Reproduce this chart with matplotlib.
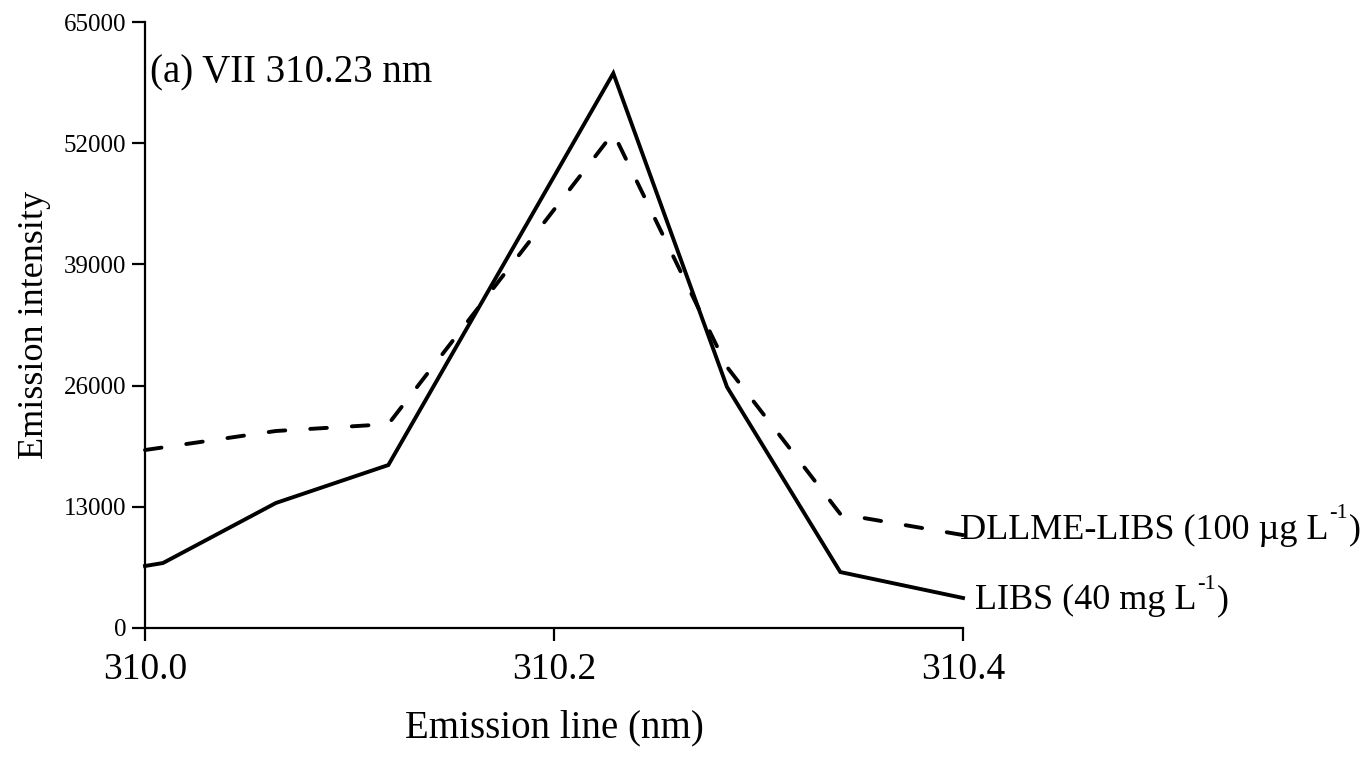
import matplotlib
matplotlib.use("Agg")
import matplotlib.pyplot as plt
from matplotlib.transforms import offset_copy

plt.rcParams['font.family'] = ['Liberation Serif', 'DejaVu Serif']
plt.rcParams['lines.scale_dashes'] = False

# Data
libs_x = [310.0, 310.0088, 310.064, 310.119, 310.229, 310.2846, 310.340, 310.400]
libs_y = [6650, 6970, 13410, 17480, 59500, 25850, 6000, 3220]

dllme_x = [310.0, 310.064, 310.119, 310.229, 310.2846, 310.340, 310.400]
dllme_y = [19090, 21130, 21870, 53100, 28000, 12230, 9970]

yticks = [0, 13000, 26000, 39000, 52000, 65000]
xticks = [310.0, 310.2, 310.4]
xticklabels = ["310.0", "310.2", "310.4"]

fig = plt.figure(figsize=(13.72, 7.57), dpi=100)
ax = fig.add_axes([145/1372, 1-628/757, (963-145)/1372, (628-22)/757])

ax.plot(libs_x, libs_y, color='black', lw=2.8, solid_joinstyle='miter', clip_on=False)
ax.plot(dllme_x, dllme_y, color='black', lw=2.8, dashes=(12, 18),
        dash_capstyle='round', clip_on=False)

ax.set_xlim(310.0, 310.4)
ax.set_ylim(0, 65000)
ax.set_yticks(yticks)
ax.set_yticklabels([str(v) for v in yticks], fontsize=18)
ax.set_xticks(xticks)
ax.set_xticklabels(xticklabels, fontsize=27)

for s in ['top', 'right']:
    ax.spines[s].set_visible(False)
for s in ['left', 'bottom']:
    ax.spines[s].set_linewidth(1.6)
ax.tick_params(axis='both', direction='out', length=9.5, width=1.6, color='black')
ax.tick_params(axis='y', pad=4)
ax.tick_params(axis='x', pad=8)

ax.set_xlabel("Emission line (nm)", fontsize=28, labelpad=16)
ax.set_ylabel("Emission intensity", fontsize=26, labelpad=9)

ax.text(0.006, 0.916, "(a) VII 310.23 nm", transform=ax.transAxes,
        fontsize=28, va='center', ha='left')


def label_with_sup(x, y, base, sup, tail, size):
    t1 = ax.text(x, y, base, fontsize=size, va='center', ha='left', clip_on=False)
    fig.canvas.draw()
    r = fig.canvas.get_renderer()
    bb = t1.get_window_extent(r)
    inv = ax.transData.inverted()
    x2, _ = inv.transform((bb.x1 + 1, bb.y0))
    tr = offset_copy(ax.transData, fig=fig, x=0, y=size * 0.45, units='points')
    t2 = ax.text(x2, y, sup, fontsize=size * 0.62, va='center', ha='left',
                 transform=tr, clip_on=False)
    fig.canvas.draw()
    bb2 = t2.get_window_extent(r)
    x3, _ = inv.transform((bb2.x1 + 1, bb.y0))
    ax.text(x3, y, tail, fontsize=size, va='center', ha='left', clip_on=False)


label_with_sup(310.3985, 10500, "DLLME-LIBS (100 µg L", "-1", ")", 26)
label_with_sup(310.4059, 2900, "LIBS (40 mg L", "-1", ")", 26)

fig.savefig("out.png", dpi=100)
